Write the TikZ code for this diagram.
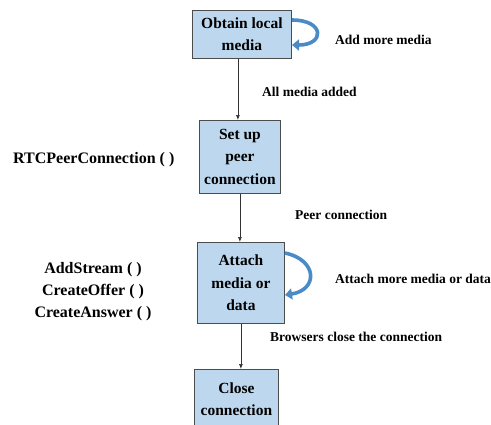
\documentclass[tikz,border=0pt]{standalone}
\usepackage{fontspec}
\setmainfont{Liberation Serif}
\usetikzlibrary{arrows.meta}
\definecolor{boxfill}{HTML}{BDD7EE}
\definecolor{loopblue}{HTML}{4A8AC6}
\begin{document}
\begin{tikzpicture}[x=1pt,y=-1pt,
  stepbox/.style={draw=black!70, fill=boxfill, line width=0.8pt, align=center,
    font=\fontsize{15.5}{22.5}\selectfont\bfseries, inner sep=0pt, anchor=north west},
  lbl/.style={font=\fontsize{13.5}{16}\selectfont\bfseries, anchor=west, inner sep=0pt},
  biglbl/.style={font=\fontsize{16}{22}\selectfont\bfseries, align=center, inner sep=0pt},
  flow/.style={draw=black!80, line width=0.7pt, -{Latex[length=5pt,width=4pt]}},
  loop/.style={draw=loopblue, line width=3.6pt, -{Triangle[length=7pt,width=11pt]}}]
\useasboundingbox (0,0) rectangle (491,424);
\node[stepbox, minimum width=99pt, minimum height=48pt] (b1) at (192,10) {Obtain local\\media};
\node[stepbox, minimum width=81pt, minimum height=73pt] (b2) at (199,120) {Set up\\peer\\connection};
\node[stepbox, minimum width=87pt, minimum height=81pt] (b3) at (197,242) {Attach\\media or\\data};
\node[stepbox, minimum width=84pt, minimum height=60pt] (b4) at (194,369) {Close\\connection};
\draw[flow] (b1.south) ++(-4,0) coordinate (s1) -- (s1 |- b2.north);
\draw[flow] (b2.south) -- (b2.south |- b3.north);
\draw[flow] (b3.south) -- (b3.south |- b4.north);
\coordinate (l1a) at (292,20);
\coordinate (l1b) at (292,45);
\draw[loop] (l1a) .. controls (325,20) and (325,45) .. (l1b);
\coordinate (l3a) at (285,253);
\coordinate (l3b) at (285,295);
\draw[loop] (l3a) .. controls (318,260) and (318,290) .. (l3b);
\node[lbl] (t1) at (335,40) {Add more media};
\node[lbl] (t2) at (262,92) {All media added};
\node[lbl] (t3) at (295,215) {Peer connection};
\node[lbl] (t4) at (335,279) {Attach more media or data};
\node[lbl] (t5) at (270,337) {Browsers close the connection};
\node[biglbl, anchor=west] (t6) at (13,160) {RTCPeerConnection ( )};
\node[biglbl] (t7) at (93,292) {AddStream ( )\\CreateOffer ( )\\CreateAnswer ( )};
\end{tikzpicture}
\end{document}
